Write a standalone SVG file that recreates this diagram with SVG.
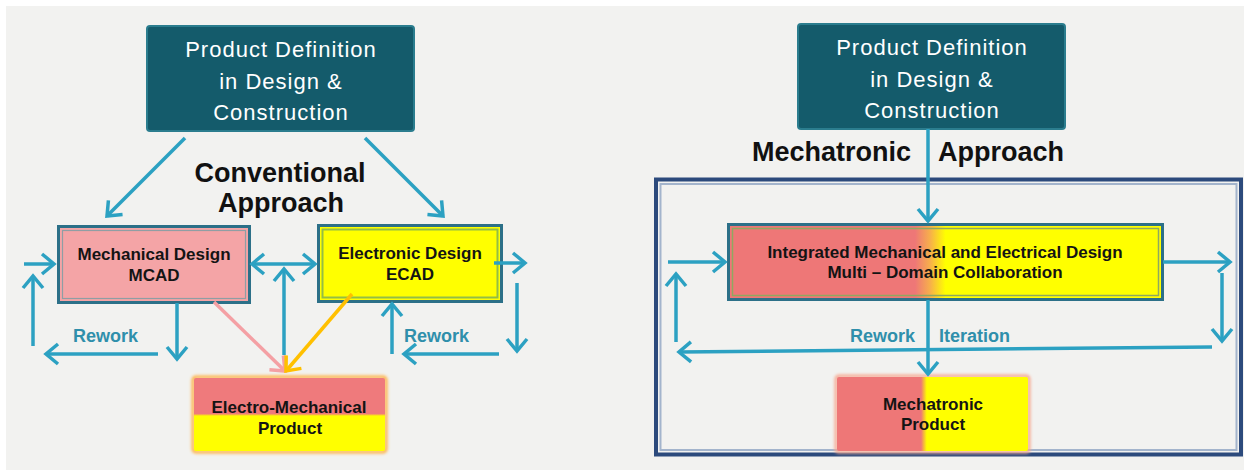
<svg xmlns="http://www.w3.org/2000/svg" width="1244" height="470" viewBox="0 0 1244 470">
<style>
.bg{fill:#f2f2f0}
.topbox{fill:#145b6b;stroke:#2b7d8e;stroke-width:2}
.toptxt{font-family:"Liberation Sans",Arial,sans-serif;font-size:22px;fill:#ffffff;text-anchor:middle;letter-spacing:1px}
.title{font-family:"Liberation Sans",Arial,sans-serif;font-size:27px;font-weight:bold;fill:#111111}
.lbl{font-family:"Liberation Sans",Arial,sans-serif;font-size:17px;font-weight:bold;fill:#141414;text-anchor:middle}
.rw{font-family:"Liberation Sans",Arial,sans-serif;font-size:18px;font-weight:bold;fill:#2f8fab}
.frame{fill:none;stroke:#2c4a7c;stroke-width:4}
.frame2{fill:none;stroke:#a3b4cc;stroke-width:2}
.outer{stroke:#2c7088;stroke-width:3}
.c{fill:none;stroke:#2ca1c2;stroke-width:3.5}
</style>
<defs>
<marker id="ah" markerUnits="userSpaceOnUse" markerWidth="20" markerHeight="26" viewBox="-3 -3 20 26" refX="12" refY="10" orient="auto-start-reverse" overflow="visible">
<path d="M0,0 L12,10 L0,20" fill="none" stroke="#2ca1c2" stroke-width="3.5"/>
</marker>
<marker id="ahp" markerUnits="userSpaceOnUse" markerWidth="20" markerHeight="26" viewBox="-3 -3 20 26" refX="12" refY="10" orient="auto" overflow="visible">
<path d="M0,0 L12,10 L0,20" fill="none" stroke="#f4a0a4" stroke-width="3.5"/>
</marker>
<marker id="aho" markerUnits="userSpaceOnUse" markerWidth="20" markerHeight="26" viewBox="-3 -3 20 26" refX="12" refY="10" orient="auto" overflow="visible">
<path d="M0,0 L12,10 L0,20" fill="none" stroke="#ffc000" stroke-width="3.5"/>
</marker>
<linearGradient id="gEM" x1="0" y1="0" x2="0" y2="1">
<stop offset="0" stop-color="#ef7a7c"/>
<stop offset="0.49" stop-color="#ef7a7c"/>
<stop offset="0.52" stop-color="#ffff00"/>
<stop offset="1" stop-color="#ffff00"/>
</linearGradient>
<linearGradient id="gInt" x1="0" y1="0" x2="1" y2="0">
<stop offset="0" stop-color="#ee7777"/>
<stop offset="0.43" stop-color="#ee7777"/>
<stop offset="0.465" stop-color="#f7b04a"/>
<stop offset="0.5" stop-color="#ffff00"/>
<stop offset="1" stop-color="#ffff00"/>
</linearGradient>
<linearGradient id="gMP" x1="0" y1="0" x2="1" y2="0">
<stop offset="0" stop-color="#ee7777"/>
<stop offset="0.44" stop-color="#ee7777"/>
<stop offset="0.47" stop-color="#ffff00"/>
<stop offset="1" stop-color="#ffff00"/>
</linearGradient>
<filter id="glow" x="-10%" y="-10%" width="120%" height="120%">
<feGaussianBlur stdDeviation="1.6"/>
</filter>
</defs>

<rect class="bg" x="6" y="6" width="1238" height="464"/>

<g id="frame">
<rect class="frame" x="656" y="179.5" width="585" height="275"/>
<rect class="frame2" x="660.5" y="184" width="576" height="266"/>
</g>

<g id="top-left">
<rect class="topbox" x="147" y="26" width="267" height="105" rx="3"/>
<text class="toptxt" x="281" y="57">Product Definition</text>
<text class="toptxt" x="281" y="89">in Design &amp;</text>
<text class="toptxt" x="281" y="120">Construction</text>
</g>

<g id="top-right">
<rect class="topbox" x="798" y="24" width="267" height="105" rx="3"/>
<text class="toptxt" x="932" y="55">Product Definition</text>
<text class="toptxt" x="932" y="87">in Design &amp;</text>
<text class="toptxt" x="932" y="118">Construction</text>
</g>

<g id="title-conventional">
<text class="title" x="280" y="182" text-anchor="middle">Conventional</text>
<text class="title" x="281" y="212" text-anchor="middle">Approach</text>
</g>

<g id="title-mechatronic">
<text class="title" y="161"><tspan x="752">Mechatronic</tspan><tspan x="938">Approach</tspan></text>
</g>

<g id="mcad">
<rect class="outer" x="58.5" y="226.5" width="191" height="76" fill="#f4a4a6"/>
<rect x="62.5" y="230.5" width="183" height="68" fill="none" stroke="#8f9ea4" stroke-width="1.2"/>
<text class="lbl" x="154" y="260">Mechanical Design</text>
<text class="lbl" x="154" y="281">MCAD</text>
</g>

<g id="ecad">
<rect class="outer" x="318.5" y="225.5" width="183" height="76" fill="#ffff00"/>
<rect x="322.5" y="229.5" width="175" height="68" fill="none" stroke="#93bd45" stroke-width="2"/>
<text class="lbl" x="410" y="259">Electronic Design</text>
<text class="lbl" x="410" y="280">ECAD</text>
</g>

<g id="electro-mechanical">
<rect x="193" y="377" width="193" height="75" rx="3" fill="none" stroke="#ffb040" stroke-width="3" filter="url(#glow)"/>
<rect x="194" y="378" width="191" height="73" rx="2" fill="url(#gEM)"/>
<text class="lbl" x="289" y="413">Electro-Mechanical</text>
<text class="lbl" x="290" y="434">Product</text>
</g>

<g id="integrated">
<rect class="outer" x="728.5" y="224.5" width="434" height="75" fill="url(#gInt)"/>
<rect x="732.5" y="228.5" width="426" height="67" fill="none" stroke="#8fa860" stroke-width="1.5"/>
<text class="lbl" x="945" y="258">Integrated Mechanical  and Electrical Design</text>
<text class="lbl" x="945" y="278">Multi – Domain Collaboration</text>
</g>

<g id="mechatronic-product">
<rect x="836" y="376" width="193" height="76" rx="3" fill="none" stroke="#f6a890" stroke-width="3" filter="url(#glow)"/>
<rect x="837" y="377" width="191" height="74" rx="2" fill="url(#gMP)"/>
<text class="lbl" x="933" y="410">Mechatronic</text>
<text class="lbl" x="933" y="430">Product</text>
</g>

<g id="connectors">
<line class="c" x1="185" y1="138" x2="107" y2="216" marker-end="url(#ah)"/>
<line class="c" x1="365" y1="138" x2="443" y2="216" marker-end="url(#ah)"/>
<line class="c" x1="24" y1="264" x2="54" y2="264" marker-end="url(#ah)"/>
<line class="c" x1="33" y1="346" x2="33" y2="276" marker-end="url(#ah)"/>
<line class="c" x1="158" y1="354" x2="46" y2="354" marker-end="url(#ah)"/>
<line class="c" x1="177" y1="303" x2="177" y2="359" marker-end="url(#ah)"/>
<line class="c" x1="252" y1="264" x2="315" y2="264" marker-start="url(#ah)" marker-end="url(#ah)"/>
<line class="c" x1="284" y1="355" x2="284" y2="269" marker-end="url(#ah)"/>
<line x1="214" y1="302" x2="285" y2="371" fill="none" stroke="#f4a0a4" stroke-width="3.5" marker-end="url(#ahp)"/>
<line x1="352" y1="294" x2="286" y2="371" fill="none" stroke="#ffc000" stroke-width="3.5" marker-end="url(#aho)"/>
<line class="c" x1="494" y1="263" x2="525" y2="263" marker-end="url(#ah)"/>
<line class="c" x1="517" y1="283" x2="517" y2="351" marker-end="url(#ah)"/>
<line class="c" x1="499" y1="354" x2="404" y2="354" marker-end="url(#ah)"/>
<line class="c" x1="392" y1="354" x2="392" y2="304" marker-end="url(#ah)"/>
<line class="c" x1="928" y1="129" x2="928" y2="221" marker-end="url(#ah)"/>
<line class="c" x1="668" y1="262" x2="725" y2="262" marker-end="url(#ah)"/>
<line class="c" x1="676" y1="342" x2="676" y2="274" marker-end="url(#ah)"/>
<line class="c" x1="1212" y1="347" x2="679" y2="352" marker-end="url(#ah)"/>
<line class="c" x1="1163" y1="262" x2="1230" y2="262" marker-end="url(#ah)"/>
<line class="c" x1="1222" y1="273" x2="1222" y2="341" marker-end="url(#ah)"/>
<line class="c" x1="928" y1="300" x2="928" y2="374" marker-end="url(#ah)"/>
</g>

<g id="labels">
<text class="rw" x="73" y="342">Rework</text>
<text class="rw" x="404" y="342">Rework</text>
<text class="rw" x="850" y="342">Rework</text>
<text class="rw" x="939" y="342">Iteration</text>
</g>
</svg>
